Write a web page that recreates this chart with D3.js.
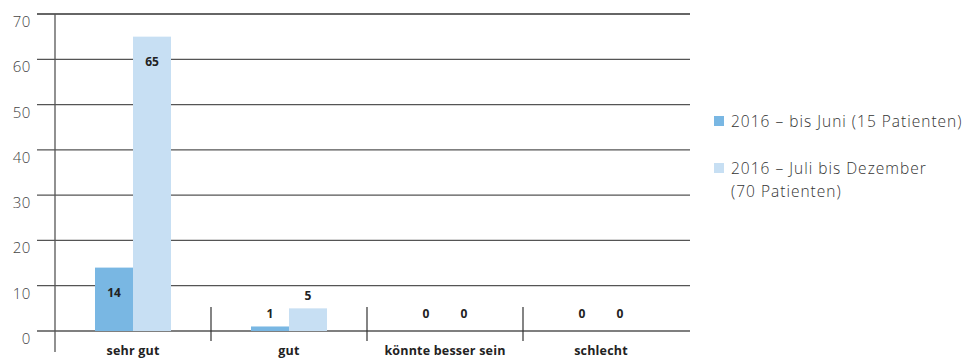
<!DOCTYPE html>
<html>
<head>
<meta charset="utf-8">
<script src="https://cdn.jsdelivr.net/npm/d3@7"></script>
<style>
  body { margin: 0; background: #fff; }
  text { font-family: "Open Sans", Roboto, sans-serif; }
</style>
</head>
<body>
<div id="chart"></div>
<script>
const categories = ["sehr gut", "gut", "könnte besser sein", "schlecht"];
const seriesNames = ["2016 – bis Juni (15 Patienten)", "2016 – Juli bis Dezember\n(70 Patienten)"];
const firstHalf = [14, 1, 0, 0];
const secondHalf = [65, 5, 0, 0];
const yTicks = [0, 10, 20, 30, 40, 50, 60, 70];
const colors = ["#79b7e3", "#c7dff3"];

const width = 975, height = 359;
const plot = { left: 55, right: 679, top: 14, bottom: 331 };

const svg = d3.select("#chart").append("svg")
  .attr("width", width)
  .attr("height", height);

let y = d3.scaleLinear().domain([0, 70]).range([plot.bottom, plot.top]);
let x = d3.scaleBand().domain(categories).range([plot.left, plot.right]);
let xs = d3.scaleBand().domain([0, 1]).range([0, 76]);

// gridlines
svg.append("g")
  .selectAll("line")
  .data(yTicks)
  .join("line")
  .attr("x1", 37).attr("x2", 690)
  .attr("y1", d => y(d)).attr("y2", d => y(d))
  .attr("stroke", d => d === 70 ? "#333" : "#555")
  .attr("stroke-width", 1.3);

// y labels
svg.append("g")
  .selectAll("text")
  .data(yTicks)
  .join("text")
  .attr("x", 31)
  .attr("y", d => y(d) + 7)
  .attr("text-anchor", "end")
  .attr("dominant-baseline", "central")
  .attr("font-size", 15)
  .attr("font-weight", 300)
  .attr("letter-spacing", 0.6)
  .attr("fill", "#444")
  .text(d => d);

// left axis line
svg.append("line")
  .attr("x1", plot.left).attr("x2", plot.left)
  .attr("y1", plot.top).attr("y2", 352)
  .attr("stroke", "#555").attr("stroke-width", 1.3);

// category separators
svg.append("g")
  .selectAll("line")
  .data(categories.slice(1))
  .join("line")
  .attr("x1", d => x(d)).attr("x2", d => x(d))
  .attr("y1", 307).attr("y2", 341)
  .attr("stroke", "#333").attr("stroke-width", 1.2);

const data = [];
categories.forEach((c, i) => {
  data.push({ cat: c, s: 0, v: firstHalf[i] });
  data.push({ cat: c, s: 1, v: secondHalf[i] });
});

const barX = d => x(d.cat) + x.bandwidth() / 2 - 38 + xs(d.s);

svg.append("g")
  .selectAll("rect")
  .data(data)
  .join("rect")
  .attr("x", barX)
  .attr("width", xs.bandwidth())
  .attr("y", d => y(d.v))
  .attr("height", d => y(0) - y(d.v))
  .attr("fill", d => colors[d.s]);

// value labels
svg.append("g")
  .selectAll("text")
  .data(data)
  .join("text")
  .attr("x", d => barX(d) + xs.bandwidth() / 2)
  .attr("y", d => d.v >= 10 ? y(d.v) + 25 : Math.min(y(d.v) - 13, y(0) - 18))
  .attr("text-anchor", "middle")
  .attr("dominant-baseline", "central")
  .attr("font-size", 12)
  .attr("font-weight", 700)
  .attr("fill", "#222")
  .text(d => d.v);

// category labels
svg.append("g")
  .selectAll("text")
  .data(categories)
  .join("text")
  .attr("x", d => x(d) + x.bandwidth() / 2)
  .attr("y", 355)
  .attr("text-anchor", "middle")
  .attr("font-size", 12.5)
  .attr("font-weight", 700)
  .attr("letter-spacing", 0.2)
  .attr("fill", "#222")
  .text(d => d);

// legend
const legendY = [121, 168];
const legend = svg.append("g")
  .selectAll("g")
  .data(seriesNames)
  .join("g")
  .attr("transform", (d, i) => `translate(714,${legendY[i]})`);

legend.append("rect")
  .attr("x", 0).attr("y", -5)
  .attr("width", 10).attr("height", 10)
  .attr("fill", (d, i) => colors[i]);

legend.append("text")
  .attr("font-size", 15.5)
  .attr("font-weight", 300)
  .attr("letter-spacing", 1)
  .attr("fill", "#333")
  .selectAll("tspan")
  .data(d => d.split("\n"))
  .join("tspan")
  .attr("x", 17)
  .attr("y", (d, i) => i * 23)
  .attr("dominant-baseline", "central")
  .text(d => d);
</script>
</body>
</html>
